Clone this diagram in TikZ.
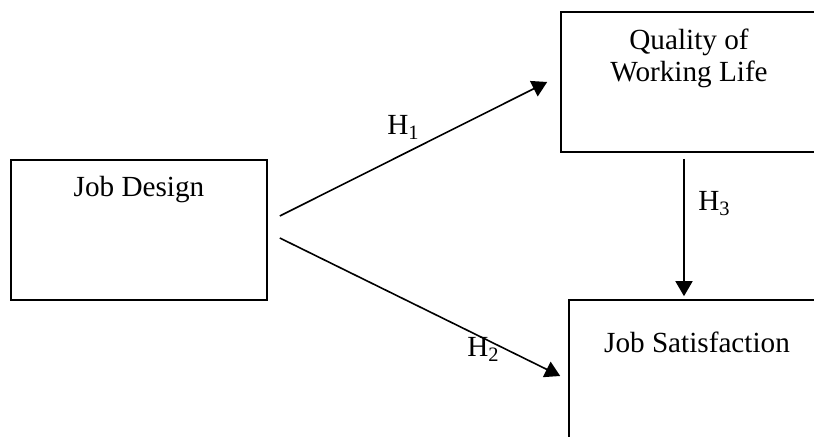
\documentclass[tikz,border=0pt]{standalone}
\usepackage{fontspec}
\setmainfont{Liberation Serif}
\usepackage{tikz}
\usetikzlibrary{shapes,arrows.meta,positioning}

\begin{document}
\begin{tikzpicture}[x=0.5pt, y=-0.5pt, font=\fontsize{14.6}{16}\selectfont]
        \tikzstyle{block} = [rectangle, draw, line width=0.8pt, minimum width=128pt, minimum height=70pt, inner sep=0pt]
        \tikzstyle{line} = [draw, line width=0.8pt, -{Triangle[length=7.5pt, width=8.5pt]}]
        \tikzstyle{hyp} = [anchor=base west, inner sep=0pt]
        \useasboundingbox (0,0) rectangle (814,437);
        \clip (0,0) rectangle (814,437);

        % boxes
        \node [block] (jd) at (139,230) {};
        \node [block] (qwl) at (689,82) {};
        \node [block] (js) at (697,370) {};

        % box titles
        \node [anchor=base, inner sep=0pt] (jdtext) at (139,197) {Job Design};
        \node [anchor=base, inner sep=0pt, align=center] (qwltext) at (689,82) {Quality of\\Working Life};
        \node [anchor=base, inner sep=0pt] (jstext) at (697,353) {Job Satisfaction};

        % hypotheses
        \path [line] ([xshift=6pt, yshift=7pt]jd.east) -- ([xshift=-6.5pt]qwl.west);
        \path [line] ([xshift=6pt, yshift=-4pt]jd.east) -- ([xshift=-4pt, yshift=-3pt]js.west);
        \path [line] ([xshift=-2.5pt, yshift=-3pt]qwl.south) -- ([xshift=-2.5pt, yshift=1.5pt]qwl.south |- js.north);

        \node [hyp] (h1) at (387,135) {H\textsubscript{1}};
        \node [hyp] (h2) at (467,357) {H\textsubscript{2}};
        \node [hyp] (h3) at (698,211) {H\textsubscript{3}};
    \end{tikzpicture}
\end{document}
